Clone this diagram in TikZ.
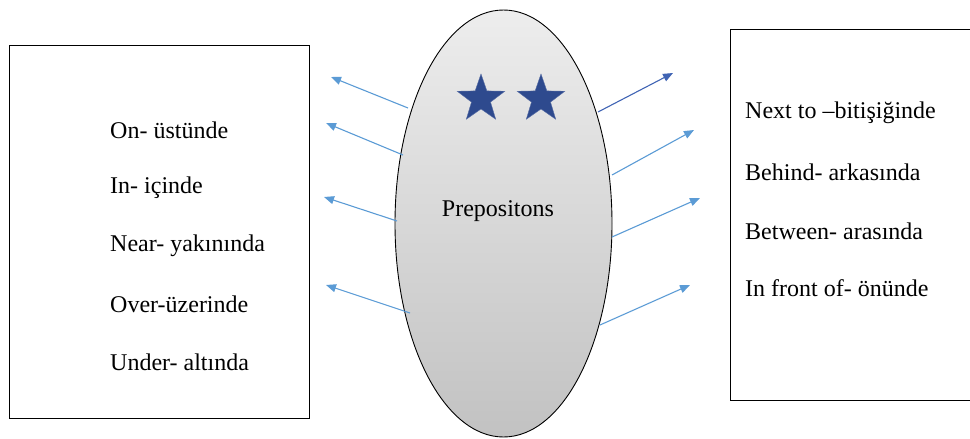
\documentclass[tikz,border=0pt]{standalone}
\usepackage{fontspec}
\setmainfont{Liberation Serif}
\usetikzlibrary{arrows.meta}
\usetikzlibrary{shapes.geometric}
\definecolor{arrowblue}{HTML}{5B9BD5}
\definecolor{darkarrow}{HTML}{4064B4}
\definecolor{starblue}{HTML}{2E4A8E}

\begin{document}
\begin{tikzpicture}[x=1pt,y=-1pt,
  word/.style={anchor=west,inner sep=0pt,font=\rmfamily\fontsize{24}{27}\selectfont},
  link/.style={-{Triangle[length=10pt,width=8pt]},arrowblue,line width=1.1pt},
  starmark/.style={star,star points=5,star point ratio=2.5,fill=starblue,draw=starblue!80!white,
    minimum size=50pt,inner sep=0pt}]
\useasboundingbox (0,0) rectangle (970,439);

% left box
\draw[line width=0.9pt] (9,45) rectangle (309,418);
\node[word] (on) at (110,130) {On- üstünde};
\node[word] (in) at (110,188) {In- içinde};
\node[word] (near) at (110,246) {Near- yakınında};
\node[word] (over) at (110,304) {Over-üzerinde};
\node[word] (under) at (110,362) {Under- altında};

% right box, open to the right edge
\draw[line width=0.9pt] (972,29) -- (730,29) -- (730,400) -- (972,400);
\node[word] (next) at (745,113) {Next to –bitişiğinde};
\node[word] (behind) at (745,172) {Behind- arkasında};
\node[word] (between) at (745,231) {Between- arasında};
\node[word] (front) at (745,288) {In front of- önünde};

% the oval in the middle
\node[ellipse,draw,line width=0.9pt,top color=gray!14,bottom color=gray!48,
  minimum width=217pt,minimum height=427pt,inner sep=0pt] (prep) at (503.5,223.5) {};
\node[font=\rmfamily\fontsize{24}{27}\selectfont] (preptext) at (498,211) {Prepositons};
\node[starmark] (s1) at (481,99) {};
\node[starmark] (s2) at (541,99) {};

% arrows out of the oval
\coordinate (l1) at (408,108);
\coordinate (l2) at (403,155);
\coordinate (l3) at (397,221);
\coordinate (l4) at (410,313);
\coordinate (tl1) at (331,77);
\coordinate (tl2) at (326,123);
\coordinate (tl3) at (324,197);
\coordinate (tl4) at (326,285);
\coordinate (r1) at (598,112);
\coordinate (r2) at (612,175);
\coordinate (r3) at (612,237);
\coordinate (r4) at (600,325);
\coordinate (tr1) at (673,73);
\coordinate (tr2) at (694,130);
\coordinate (tr3) at (700,198);
\coordinate (tr4) at (690,285);

\draw[link] (l1) -- (tl1);
\draw[link] (l2) -- (tl2);
\draw[link] (l3) -- (tl3);
\draw[link] (l4) -- (tl4);
\draw[link,darkarrow] (r1) -- (tr1);
\draw[link] (r2) -- (tr2);
\draw[link] (r3) -- (tr3);
\draw[link] (r4) -- (tr4);
\end{tikzpicture}
\end{document}
